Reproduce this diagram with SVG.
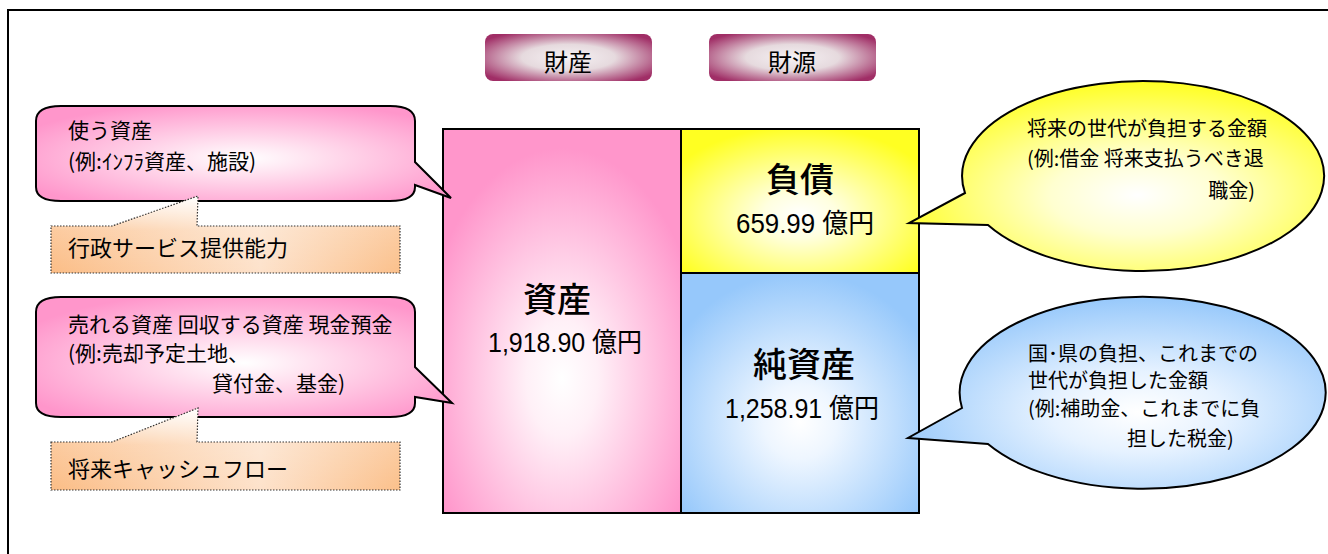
<svg xmlns="http://www.w3.org/2000/svg" width="1328" height="554" viewBox="0 0 1328 554">
<style>
.jp{font-family:'Noto Sans CJK JP','Noto Sans',sans-serif;fill:#000}
.num{font-family:'Liberation Sans','Noto Sans CJK JP',sans-serif;fill:#000}
.cap{font-size:20px}
.capL{font-size:21px}
.title{font-size:34px;font-weight:500;text-anchor:middle}
.edge{stroke:#000;stroke-width:2}
.dot{stroke:#333;stroke-width:1.2;stroke-dasharray:1.5 1.5}
</style>
<defs>
<radialGradient id="gPill" cx="0.5" cy="0.5" r="0.62">
<stop offset="0" stop-color="#f6f2f4"/>
<stop offset="0.45" stop-color="#e6dade"/>
<stop offset="1" stop-color="#a02e66"/>
</radialGradient>
<radialGradient id="gPink" cx="0.5" cy="0.65" r="0.6">
<stop offset="0" stop-color="#ffffff"/>
<stop offset="0.25" stop-color="#fff0f7"/>
<stop offset="1" stop-color="#ff96cb"/>
</radialGradient>
<radialGradient id="gYel" cx="0.5" cy="0.6" r="0.62">
<stop offset="0" stop-color="#ffffff"/>
<stop offset="0.25" stop-color="#ffffe0"/>
<stop offset="1" stop-color="#ffff22"/>
</radialGradient>
<radialGradient id="gBlue" cx="0.5" cy="0.62" r="0.62">
<stop offset="0" stop-color="#ffffff"/>
<stop offset="0.25" stop-color="#eef6ff"/>
<stop offset="1" stop-color="#96c8fb"/>
</radialGradient>
<radialGradient id="gCallPink" cx="0.5" cy="0.55" r="0.6">
<stop offset="0" stop-color="#ffffff"/>
<stop offset="0.3" stop-color="#ffe0ef"/>
<stop offset="1" stop-color="#ff96cb"/>
</radialGradient>
<radialGradient id="gCallYel" cx="0.55" cy="0.6" r="0.6">
<stop offset="0" stop-color="#ffffff"/>
<stop offset="0.35" stop-color="#ffffd0"/>
<stop offset="1" stop-color="#ffff22"/>
</radialGradient>
<radialGradient id="gCallBlue" cx="0.55" cy="0.6" r="0.6">
<stop offset="0" stop-color="#ffffff"/>
<stop offset="0.35" stop-color="#e6f2ff"/>
<stop offset="1" stop-color="#96c8fb"/>
</radialGradient>
<linearGradient id="gOrH" x1="0" y1="0" x2="1" y2="0">
<stop offset="0" stop-color="#fbbd86"/>
<stop offset="0.6" stop-color="#fde2cb"/>
<stop offset="1" stop-color="#fbc08b"/>
</linearGradient>
<linearGradient id="gOrV" x1="0" y1="0" x2="0" y2="1">
<stop offset="0" stop-color="#ffffff" stop-opacity="1"/>
<stop offset="0.45" stop-color="#ffffff" stop-opacity="0.2"/>
<stop offset="1" stop-color="#ffffff" stop-opacity="0"/>
</linearGradient>
</defs>

<rect id="frame" x="8" y="10" width="1360" height="620" fill="#fff" stroke="#000" stroke-width="2"/>

<g id="pill-zaisan">
<rect x="485" y="34" width="167" height="47" rx="8" fill="url(#gPill)"/>
<text class="jp" x="568" y="71" font-size="24" text-anchor="middle">財産</text>
</g>
<g id="pill-zaigen">
<rect x="709" y="34" width="167" height="47" rx="8" fill="url(#gPill)"/>
<text class="jp" x="792" y="71" font-size="24" text-anchor="middle">財源</text>
</g>

<g id="connectors">
</g>

<g id="asset">
<rect x="443" y="129" width="238" height="384" fill="url(#gPink)" class="edge"/>
<text class="jp title" x="557" y="312">資産</text>
<text class="num" x="488" y="352" font-size="27" textLength="154" lengthAdjust="spacingAndGlyphs">1,918.90 億円</text>
</g>
<g id="liability">
<rect x="681" y="129" width="238" height="144" fill="url(#gYel)" class="edge"/>
<text class="jp title" x="800" y="192">負債</text>
<text class="num" x="736" y="233" font-size="27" textLength="138" lengthAdjust="spacingAndGlyphs">659.99 億円</text>
</g>
<g id="netasset">
<rect x="681" y="273" width="238" height="240" fill="url(#gBlue)" class="edge"/>
<text class="jp title" x="804" y="377">純資産</text>
<text class="num" x="725" y="418" font-size="27" textLength="154" lengthAdjust="spacingAndGlyphs">1,258.91 億円</text>
</g>

<g id="callout-use">
<path d="M61,106 H390 Q415,106 415,121 V162 L451,198 L415,185 V187 Q415,201 390,201 H61 Q36,201 36,187 V121 Q36,106 61,106 Z" fill="url(#gCallPink)" class="edge"/>
<text class="jp capL" x="68" y="138">使う資産</text>
<text class="jp capL" x="68" y="169">(例:ｲﾝﾌﾗ資産、施設)</text>
</g>
<g id="box-service">
<path d="M51,226 H112 L198,196 L197,226 H400 V273 H51 Z" fill="url(#gOrH)"/>
<path d="M51,226 H112 L198,196 L197,226 H400 V273 H51 Z" fill="url(#gOrV)" class="dot"/>
<text class="jp" x="68" y="256" font-size="22">行政サービス提供能力</text>
</g>

<g id="callout-sell">
<path d="M61,297 H390 Q415,297 415,312 V367 L452,403 L415,397 V403 Q415,417 390,417 H61 Q36,417 36,403 V312 Q36,297 61,297 Z" fill="url(#gCallPink)" class="edge"/>
<text class="jp capL" x="68" y="332">売れる資産 回収する資産 現金預金</text>
<text class="jp capL" x="68" y="361">(例:売却予定土地、</text>
<text class="jp capL" x="212" y="391">貸付金、基金)</text>
</g>
<g id="box-cashflow">
<path d="M51,442 H112 L198,408 L197,442 H400 V490 H51 Z" fill="url(#gOrH)"/>
<path d="M51,442 H112 L198,408 L197,442 H400 V490 H51 Z" fill="url(#gOrV)" class="dot"/>
<text class="jp" x="68" y="477" font-size="22">将来キャッシュフロー</text>
</g>

<g id="callout-future">
<path d="M965,193 L909,223 L988,225 A181 95 0 1 0 965,193 Z" fill="url(#gCallYel)" class="edge"/>
<text class="jp cap" x="1027" y="136">将来の世代が負担する金額</text>
<text class="jp cap" x="1027" y="166">(例:借金 将来支払うべき退</text>
<text class="jp cap" x="1255" y="198" text-anchor="end">職金)</text>
</g>

<g id="callout-past">
<path d="M962,408 L908,438 L988,444 A183 96 0 1 0 962,408 Z" fill="url(#gCallBlue)" class="edge"/>
<text class="jp cap" x="1028" y="361">国･県の負担、これまでの</text>
<text class="jp cap" x="1028" y="388">世代が負担した金額</text>
<text class="jp cap" x="1028" y="416">(例:補助金、これまでに負</text>
<text class="jp cap" x="1127" y="446">担した税金)</text>
</g>
</svg>
